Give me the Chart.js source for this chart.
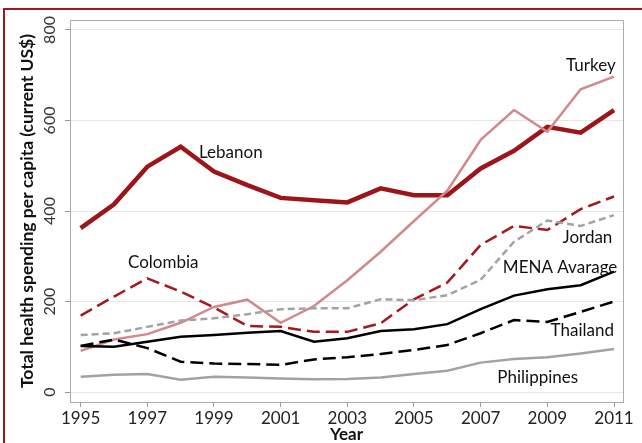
<!DOCTYPE html>
<html>
<head>
<meta charset="utf-8">
<script src="https://cdn.jsdelivr.net/npm/chart.js@4.4.0/dist/chart.umd.min.js"></script>
<style>
  body { margin: 0; background: #fff; }
  #wrap { position: relative; width: 642px; height: 443px; overflow: hidden; }
  #frame { position: absolute; left: 3px; top: 8px; right: -2px; bottom: -2px;
           border-top: 2px solid #a0161e; border-left: 2px solid #a0161e; }
  canvas { position: absolute; left: 0; top: 0; }
</style>
</head>
<body>
<div id="wrap">
  <div id="frame"></div>
  <canvas id="chart" width="642" height="443"></canvas>
</div>
<script>
// data (current US$ per capita)
var years = [1995, 1996, 1997, 1998, 1999, 2000, 2001, 2002, 2003, 2004, 2005, 2006, 2007, 2008, 2009, 2010, 2011];
var xTicks = [1995, 1997, 1999, 2001, 2003, 2005, 2007, 2009, 2011];
var yTicks = [0, 200, 400, 600, 800];

var lebanon     = [362, 415, 498, 542, 487, 457, 429, 424, 419, 450, 435, 435, 494, 533, 586, 573, 623];
var turkey      = [91, 116, 128, 153, 188, 204, 153, 190, 247, 310, 378, 445, 557, 623, 575, 669, 697];
var colombia    = [169, 211, 251, 222, 187, 146, 144, 133, 133, 152, 205, 242, 325, 367, 358, 404, 432];
var jordan      = [126, 130, 144, 158, 163, 172, 183, 185, 185, 205, 203, 214, 248, 332, 379, 367, 391];
var mena        = [102, 100, 111, 122, 126, 131, 135, 111, 119, 135, 139, 150, 183, 213, 227, 236, 266];
var thailand    = [102, 116, 97, 67, 63, 62, 60, 72, 77, 84, 93, 104, 130, 159, 155, 177, 200];
var philippines = [34, 38, 40, 27, 34, 32, 30, 28, 29, 32, 40, 47, 65, 73, 77, 85, 95];

// text labels placed in data units
var labelNames = ['Lebanon', 'Turkey', 'Colombia', 'Jordan', 'MENA Avarage', 'Thailand', 'Philippines'];
var labelX     = [1998.55, 2011.05, 1996.42, 2010.95, 2011.1, 2011.0, 2007.5];
var labelY     = [530, 722, 287, 342, 276, 137, 33];
var labelAlign = ['left', 'right', 'left', 'right', 'right', 'right', 'left'];

var FONT = 'Lato, "Open Sans", sans-serif';

function pts(vals) {
  return years.map(function (y, i) { return {x: y, y: vals[i]}; });
}

function line(label, vals, color, width, dash) {
  return {
    label: label,
    data: pts(vals),
    borderColor: color,
    backgroundColor: color,
    borderWidth: width,
    borderDash: dash || [],
    pointRadius: 0,
    tension: 0,
    fill: false
  };
}

var extras = {
  id: 'extras',
  afterDraw: function (chart) {
    var ctx = chart.ctx, a = chart.chartArea;
    var xs = chart.scales.x, ys = chart.scales.y;
    ctx.save();
    // top + right sides of the plot box
    ctx.strokeStyle = '#aaaaaa';
    ctx.lineWidth = 1;
    ctx.beginPath();
    ctx.moveTo(a.left, a.top + 0.5);
    ctx.lineTo(a.right + 0.5, a.top + 0.5);
    ctx.lineTo(a.right + 0.5, a.bottom);
    ctx.stroke();

    // rotated y tick labels
    ctx.fillStyle = '#333';
    ctx.font = '16px ' + FONT;
    ctx.textAlign = 'center';
    ctx.textBaseline = 'middle';
    yTicks.forEach(function (v) {
      ctx.save();
      ctx.translate(50, ys.getPixelForValue(v));
      ctx.rotate(-Math.PI / 2);
      ctx.fillText(String(v), 0, 0);
      ctx.restore();
    });

    // series names
    ctx.fillStyle = '#111';
    ctx.font = '17px ' + FONT;
    labelNames.forEach(function (t, i) {
      ctx.textAlign = labelAlign[i];
      ctx.fillText(t, xs.getPixelForValue(labelX[i]), ys.getPixelForValue(labelY[i]));
    });
    ctx.restore();
  }
};

new Chart(document.getElementById('chart'), {
  type: 'line',
  data: {
    datasets: [
      line('Philippines', philippines, '#a2a2a2', 2.5),
      line('Thailand', thailand, '#000000', 2.5, [13, 6]),
      line('MENA Avarage', mena, '#000000', 2.5),
      line('Jordan', jordan, '#a3a3a3', 2.5, [7, 4]),
      line('Colombia', colombia, '#a3191f', 2.5, [13, 6]),
      line('Turkey', turkey, '#d08a8c', 2.5),
      line('Lebanon', lebanon, '#9b151b', 4.5)
    ]
  },
  options: {
    responsive: false,
    animation: false,
    layout: { padding: { top: 20, right: 19, left: 0, bottom: 0 } },
    plugins: { legend: { display: false }, tooltip: { enabled: false } },
    scales: {
      x: {
        type: 'linear',
        min: 1994.68,
        max: 2011.27,
        afterBuildTicks: function (s) { s.ticks = xTicks.map(function (v) { return {value: v}; }); },
        afterFit: function (s) { s.height = 41; },
        ticks: { color: '#222', font: { family: FONT, size: 17 }, maxRotation: 0, autoSkip: false, padding: 1,
                 callback: function (v) { return String(v); } },
        grid: { drawOnChartArea: false, tickLength: 5, color: '#999' },
        border: { color: '#aaaaaa' },
        title: { display: true, text: 'Year', color: '#111', padding: 0,
                 font: { family: FONT, size: 17, weight: 'bold', lineHeight: 1.0 } }
      },
      y: {
        min: -22,
        max: 822,
        afterBuildTicks: function (s) { s.ticks = yTicks.map(function (v) { return {value: v}; }); },
        afterFit: function (s) { s.width = 70; },
        ticks: { display: false },
        grid: { color: '#e6e6e6', tickColor: '#999', tickLength: 5 },
        border: { color: '#aaaaaa' },
        title: { display: true, text: 'Total health spending per capita (current US$)', color: '#111',
                 padding: { top: 17 }, font: { family: FONT, size: 17.5, weight: 'bold', lineHeight: 1.2 } }
      }
    }
  },
  plugins: [extras]
});
</script>
</body>
</html>
